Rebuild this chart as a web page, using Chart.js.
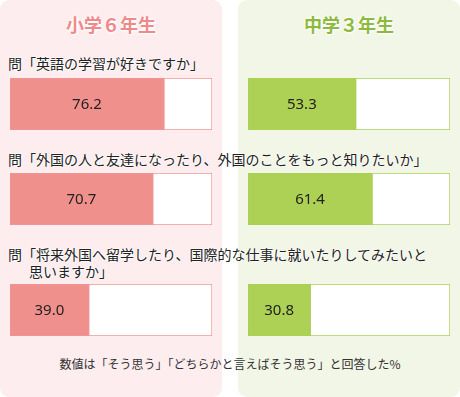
<!DOCTYPE html>
<html>
<head>
<meta charset="utf-8">
<script src="https://cdn.jsdelivr.net/npm/chart.js@4.4.0/dist/chart.umd.min.js"></script>
<style>
body { margin: 0; width: 460px; height: 397px; background: #fff; position: relative; overflow: hidden;
  font-family: "Noto Sans CJK JP", sans-serif; }
.panel { position: absolute; top: 0; height: 397px; width: 222px; border-radius: 9px; }
#pl { left: 0; background: #fdedee; }
#pr { left: 238px; background: #f2f6e6; }
.ttl { position: absolute; top: 11px; width: 222px; text-align: center; font-size: 18px; font-weight: bold;
  line-height: 26px; text-shadow: 0 0 3px #fff, 0 0 3px #fff, 1px 1px 2px #fff; }
.q { position: absolute; left: 8px; font-size: 14px; line-height: 17px; color: #222; white-space: nowrap;
  text-shadow: 0 0 2px #fff, 0 0 2px #fff, 0 0 2px #fff; }
canvas { position: absolute; }
#note { position: absolute; left: 0; width: 460px; top: 355px; text-align: center; font-size: 12px; color: #333; }
</style>
</head>
<body>
<div class="panel" id="pl"></div>
<div class="panel" id="pr"></div>
<div class="ttl" style="left:0;color:#f08a8a">小学６年生</div>
<div class="ttl" style="left:238px;color:#8dba3c">中学３年生</div>
<div class="q" style="top:55px">問「英語の学習が好きですか」</div>
<div class="q" style="top:151px">問「外国の人と友達になったり、外国のことをもっと知りたいか」</div>
<div class="q" style="top:246px">問「将来外国へ留学したり、国際的な仕事に就いたりしてみたいと<br>&emsp;&ensp;思いますか」</div>
<canvas id="c0" width="202" height="52" style="left:10px;top:78px"></canvas>
<canvas id="c1" width="202" height="52" style="left:10px;top:173px"></canvas>
<canvas id="c2" width="202" height="52" style="left:10px;top:284px"></canvas>
<canvas id="c3" width="202" height="52" style="left:248px;top:78px"></canvas>
<canvas id="c4" width="202" height="52" style="left:248px;top:173px"></canvas>
<canvas id="c5" width="202" height="52" style="left:248px;top:284px"></canvas>
<div id="note">数値は「そう思う」「どちらかと言えばそう思う」と回答した%</div>
<script>
// 値（%）
var shougaku = [76.2, 70.7, 39.0];
var chuugaku = [53.3, 61.4, 30.8];

var valueLabel = {
    id: 'valueLabel',
    afterDatasetsDraw: function(chart) {
        var ctx = chart.ctx;
        var el = chart.getDatasetMeta(0).data[0];
        var v = chart.data.datasets[0].data[0];
        ctx.save();
        ctx.font = '15px "Noto Sans"';
        ctx.fillStyle = '#222';
        ctx.textAlign = 'center';
        ctx.textBaseline = 'middle';
        ctx.fillText(v.toFixed(1), (el.x + el.base) / 2, el.y + 1);
        ctx.restore();
    }
};

function barra(id, valor, color, borde) {
    new Chart(document.getElementById(id), {
        type: 'bar',
        data: {
            labels: [''],
            datasets: [{
                data: [valor],
                backgroundColor: color,
                borderColor: borde,
                borderWidth: 1,
                borderSkipped: false,
                barPercentage: 1,
                categoryPercentage: 1
            }, {
                data: [100 - valor],
                backgroundColor: '#ffffff',
                borderColor: borde,
                borderWidth: 1,
                borderSkipped: false,
                barPercentage: 1,
                categoryPercentage: 1
            }]
        },
        options: {
            indexAxis: 'y',
            responsive: false,
            animation: false,
            layout: { padding: 0 },
            scales: {
                x: { display: false, stacked: true, min: 0, max: 100 },
                y: { display: false, stacked: true }
            },
            plugins: { legend: { display: false }, tooltip: { enabled: false } }
        },
        plugins: [valueLabel]
    });
}

for (var i = 0; i < 3; i++) {
    barra('c' + i, shougaku[i], '#f0908c', '#f09494');
    barra('c' + (i + 3), chuugaku[i], '#add155', '#a9d052');
}
</script>
</body>
</html>
